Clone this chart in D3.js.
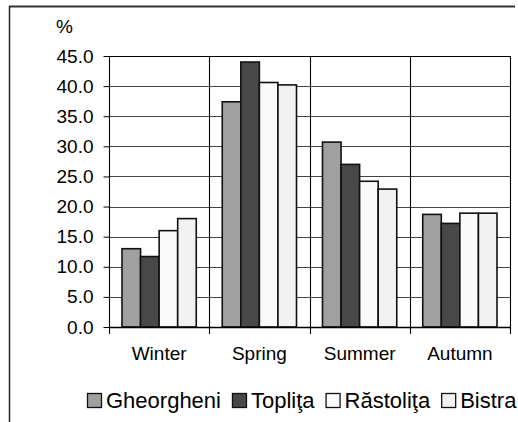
<!DOCTYPE html>
<html><head><meta charset="utf-8">
<script src="https://cdn.jsdelivr.net/npm/d3@7"></script>
<style>body{margin:0;background:#fff}svg{display:block}text{font-family:"Liberation Sans",Arial,sans-serif;fill:#000}</style>
</head><body><svg id="c" width="518" height="422"></svg>
<script>
const categories = ["Winter","Spring","Summer","Autumn"];
const seriesNames = ["Gheorgheni","Topliţa","Răstoliţa","Bistra"];
const gheorgheni = [13.0, 37.4, 30.7, 18.7];
const toplita = [11.7, 44.0, 27.0, 17.2];
const rastolita = [16.0, 40.6, 24.2, 18.9];
const bistra = [18.0, 40.2, 22.9, 18.9];
const yTicks = [0,5,10,15,20,25,30,35,40,45];
const colors = ["#a0a0a0","#484848","#fafafa","#f2f2f2"];
const seriesVals = [gheorgheni, toplita, rastolita, bistra];

const svg = d3.select("#c");
const L = 109, R = 510, T = 56, B = 327;

// outer border
svg.append("line").attr("x1",9).attr("x2",515).attr("y1",6.5).attr("y2",6.5).attr("stroke","#333").attr("stroke-width",1.8);
svg.append("line").attr("x1",9.5).attr("x2",9.5).attr("y1",6).attr("y2",422).attr("stroke","#222").attr("stroke-width",1.5);

const x = d3.scaleBand().domain(categories).range([L,R]).padding(0);
const xs = d3.scaleBand().domain(seriesNames).range([0,x.bandwidth()]).paddingOuter(0.7).paddingInner(0);
const y = d3.scaleLinear().domain([0,45]).range([B,T]);

// horizontal gridlines
svg.append("g").selectAll("line").data(yTicks.filter(d=>d>0)).join("line")
  .attr("x1",L).attr("x2",R).attr("y1",d=>Math.round(y(d))+0.5).attr("y2",d=>Math.round(y(d))+0.5)
  .attr("stroke",d=>d===45?"#000":"#444").attr("stroke-width",1.2);
// vertical gridlines at category boundaries
const bounds = categories.map(c=>x(c)).concat([R]);
svg.append("g").selectAll("line").data(bounds).join("line")
  .attr("x1",d=>Math.round(d)+0.5).attr("x2",d=>Math.round(d)+0.5).attr("y1",T).attr("y2",B+7)
  .attr("stroke","#000").attr("stroke-width",1.1);

// bars
const g = svg.append("g");
categories.forEach((c,i)=>{
  seriesNames.forEach((s,j)=>{
    const v = seriesVals[j][i];
    g.append("rect").attr("x",x(c)+xs(s)).attr("width",xs.bandwidth())
      .attr("y",y(v)).attr("height",y(0)-y(v))
      .attr("fill",colors[j]).attr("stroke","#111").attr("stroke-width",1.6);
  });
});

// y axis
const yAxis = d3.axisLeft(y).tickValues(yTicks).tickSize(6).tickPadding(10).tickFormat(d3.format(".1f"));
const ya = svg.append("g").attr("transform",`translate(${L+0.5},0)`).call(yAxis);
ya.select(".domain").remove();
ya.selectAll("line").attr("stroke","#000");
ya.selectAll("text").attr("font-size",19).attr("font-family","Liberation Sans, Arial").attr("fill","#000");

// x axis baseline
svg.append("line").attr("x1",L).attr("x2",R).attr("y1",B+0.5).attr("y2",B+0.5).attr("stroke","#000").attr("stroke-width",1.3);

// x labels
const xAxis = d3.axisBottom(x).tickSize(0).tickPadding(20);
const xa = svg.append("g").attr("transform",`translate(0,${B})`).call(xAxis);
xa.select(".domain").remove();
xa.selectAll("text").attr("font-size",19).attr("font-family","Liberation Sans, Arial").attr("fill","#000");

// % label
svg.append("text").attr("x",56).attr("y",33).attr("font-size",19).text("%");

// legend
let lx = 87;
const ly = 393;
seriesNames.forEach((s,j)=>{
  svg.append("rect").attr("x",lx+0.5).attr("y",ly+0.5).attr("width",14).attr("height",14)
    .attr("fill",colors[j]).attr("stroke","#111").attr("stroke-width",1.3);
  const t = svg.append("text").attr("x",lx+19).attr("y",ly+14.5).attr("font-size",22).text(s);
  lx = lx + 19 + t.node().getComputedTextLength() + 11;
});
</script></body></html>
